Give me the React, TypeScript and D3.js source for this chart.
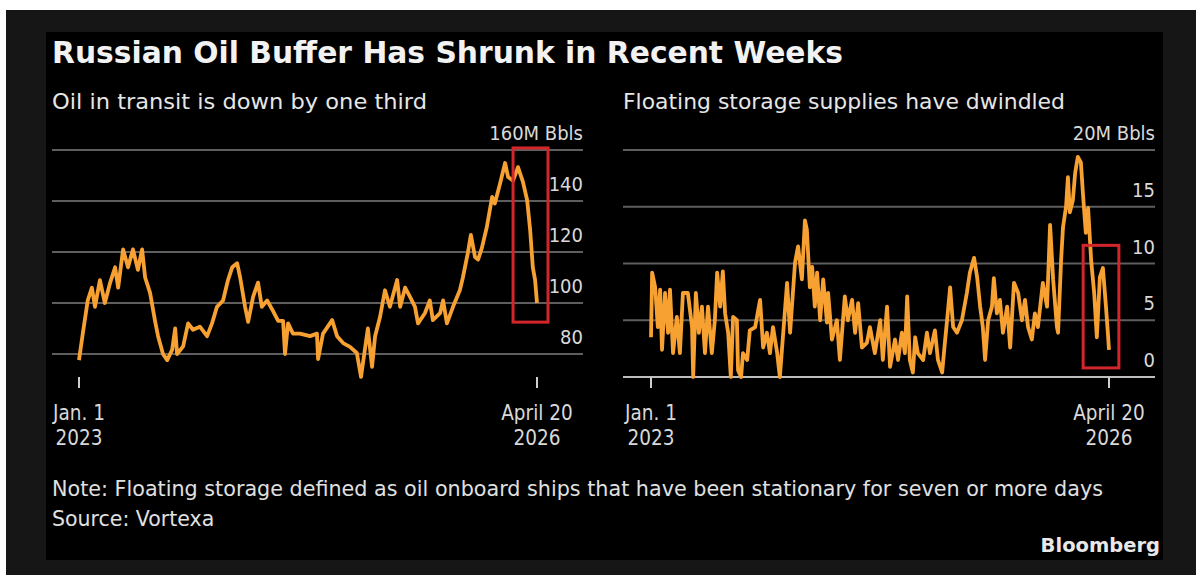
import React from "react";
import * as d3 from "d3";

// ---------- DATA ----------
const transitDates = [
  "2023-01-01","2023-01-11","2023-01-24","2023-02-04","2023-02-12","2023-02-25","2023-03-10","2023-03-24","2023-04-06","2023-04-14",
  "2023-04-27","2023-05-10","2023-05-23","2023-06-05","2023-06-16","2023-06-24","2023-07-07","2023-07-20","2023-07-28","2023-08-10",
  "2023-08-21","2023-09-03","2023-09-11","2023-09-16","2023-10-02","2023-10-15","2023-10-28","2023-11-15","2023-12-04","2023-12-17",
  "2023-12-30",
  "2024-01-15","2024-01-28","2024-02-08","2024-02-21","2024-02-29","2024-03-13","2024-03-21","2024-04-03","2024-04-16",
  "2024-04-26","2024-05-10","2024-05-25","2024-06-08","2024-06-21","2024-06-26","2024-07-04","2024-07-17","2024-08-04","2024-08-31",
  "2024-09-18","2024-09-21","2024-10-04","2024-10-28","2024-11-10","2024-11-26","2024-12-14",
  "2025-01-01","2025-01-12","2025-01-22",
  "2025-01-30","2025-02-10","2025-02-18","2025-03-03","2025-03-16","2025-03-29","2025-04-17","2025-04-25","2025-05-08","2025-05-21",
  "2025-06-03","2025-06-11","2025-06-29","2025-07-12","2025-07-20","2025-08-08","2025-08-16","2025-08-26","2025-09-11","2025-09-29",
  "2025-10-07","2025-10-20","2025-10-28","2025-11-08","2025-11-16","2025-11-26","2025-12-09","2025-12-23","2025-12-30",
  "2026-01-13","2026-01-26","2026-02-03","2026-02-16","2026-03-01","2026-03-14","2026-03-25","2026-04-02","2026-04-09","2026-04-15",
  "2026-04-20",
];
const transitValues = [
  77.6, 88, 101, 106, 98.5, 109, 100, 108, 114, 106,
  121, 114, 121, 113, 121, 110, 104, 93, 87, 80,
  77.6, 81.6, 90, 80, 83, 92, 89.5, 90.7, 87, 92,
  98.5,
  101, 109, 114, 115.6, 110, 98.5, 92.6, 102.4, 108,
  98.5, 101, 97, 93, 93, 80, 92, 88, 88, 87,
  88, 78, 88, 93.3, 87, 84.3, 82.8,
  80.4, 71, 81.6,
  90, 75, 87, 94.5, 105, 98.5, 109, 98.5, 106, 102.4,
  98.5, 92, 96, 101, 93.3, 96, 101, 92, 98.5, 105,
  110, 119.6, 126.7, 118, 117, 121.6, 129.8, 141.6, 139,
  147, 154.9, 149.4, 148, 153.3, 147.5, 140.4, 128.6, 114, 109,
  100,
];

const floatDates = [
  "2023-01-01","2023-01-04","2023-01-12","2023-01-19","2023-01-25","2023-01-30","2023-02-07","2023-02-15","2023-02-20","2023-02-28",
  "2023-03-10","2023-03-18","2023-03-26","2023-04-08","2023-04-19","2023-04-22","2023-04-29","2023-05-07","2023-05-15","2023-05-23",
  "2023-05-31","2023-06-10","2023-06-18","2023-06-24","2023-07-02","2023-07-09","2023-07-15","2023-07-23","2023-07-30","2023-08-05",
  "2023-08-15","2023-08-18","2023-08-26","2023-08-31","2023-09-11","2023-09-18","2023-10-02","2023-10-15","2023-10-23","2023-11-02",
  "2023-11-10","2023-11-18","2023-11-29","2023-12-06","2023-12-14","2023-12-25",
  "2024-01-02","2024-01-15","2024-01-23","2024-02-02","2024-02-10","2024-02-15","2024-02-23","2024-02-29","2024-03-07","2024-03-13",
  "2024-03-21","2024-03-29","2024-04-08","2024-04-11","2024-04-21","2024-05-04","2024-05-12","2024-05-25","2024-06-02","2024-06-13",
  "2024-06-21","2024-06-29","2024-07-09","2024-07-22","2024-07-30","2024-08-12","2024-08-26","2024-09-02","2024-09-13","2024-09-21",
  "2024-10-04","2024-10-12","2024-10-22","2024-10-30","2024-11-05","2024-11-12","2024-11-20","2024-11-26","2024-12-03","2024-12-17",
  "2024-12-27",
  "2025-01-04","2025-01-17","2025-01-25","2025-02-05","2025-02-13","2025-02-18","2025-02-26","2025-03-06","2025-03-16","2025-03-29",
  "2025-04-11","2025-04-19","2025-04-30","2025-05-08","2025-05-16","2025-05-23","2025-05-29","2025-06-06","2025-06-16","2025-06-21",
  "2025-06-29","2025-07-07","2025-07-15","2025-07-26","2025-08-03","2025-08-13","2025-08-24","2025-09-03","2025-09-11","2025-09-19",
  "2025-09-29","2025-10-07","2025-10-15","2025-10-28","2025-11-08","2025-11-16","2025-11-24","2025-12-04","2025-12-07","2025-12-15",
  "2025-12-20","2025-12-28",
  "2026-01-02","2026-01-07","2026-01-15","2026-01-21","2026-01-28","2026-02-05","2026-02-11","2026-02-18","2026-02-24","2026-03-04",
  "2026-03-12","2026-03-19","2026-03-27","2026-04-04","2026-04-12","2026-04-17","2026-04-20",
];
const floatValues = [
  3.5, 9.2, 7.9, 4.4, 7.7, 2.4, 7.4, 3.9, 7.7, 2.1,
  5.3, 2.1, 7.4, 7.4, 4.4, 0, 7.4, 3.9, 6.2, 2.1,
  6.2, 2.1, 5.0, 9.2, 6.2, 9.3, 5.6, 3.9, 0, 5.3,
  5.0, 0.6, 0, 2.1, 1.5, 4.1, 4.4, 6.8, 2.6, 3.9,
  2.1, 4.4, 2.1, 0, 3.5, 8.3,
  3.9, 10.1, 11.5, 8.6, 13.8, 13.0, 7.9, 9.7, 6.2, 9.2,
  5.0, 8.6, 4.8, 7.4, 3.3, 5.0, 1.5, 7.1, 5.0, 6.8,
  3.9, 6.5, 2.6, 3.0, 4.4, 2.1, 5.0, 1.5, 6.2, 0.9,
  3.3, 1.5, 3.9, 2.1, 7.1, 1.5, 0.4, 3.5, 2.1, 1.5,
  3.9,
  2.1, 4.1, 1.5, 0.4, 3.3, 5.0, 7.9, 4.4, 3.9, 5.0,
  7.4, 9.2, 10.5, 8.8, 6.2, 4.4, 1.5, 5.0, 6.2, 8.7,
  5.6, 6.8, 3.9, 6.2, 2.6, 8.3, 7.4, 5.0, 6.8, 4.4,
  3.3, 5.6, 4.4, 8.3, 6.2, 13.4, 8.6, 4.4, 3.9, 10.3,
  13.2, 15.0,
  17.6, 14.5, 15.6, 18.0, 19.4, 18.9, 15.9, 12.7, 14.9, 10.3,
  7.4, 3.5, 8.8, 9.6, 6.2, 3.9, 2.4,
];

const transitTicks = [80, 100, 120, 140, 160];
const floatTicks = [0, 5, 10, 15, 20];
const transitUnit = "160M Bbls";
const floatUnit = "20M Bbls";
const xTickDates = ["2023-01-01", "2026-04-20"];
const xTickLines = [["Jan. 1", "2023"], ["April 20", "2026"]];
// highlight boxes: [startDate, endDate, low value, high value]
const transitBox = ["2026-02-16", "2026-05-19", 92.5, 160.8];
const floatBox = ["2026-02-11", "2026-05-16", 0.8, 11.6];

const TITLE = "Russian Oil Buffer Has Shrunk in Recent Weeks";
const SUB_LEFT = "Oil in transit is down by one third";
const SUB_RIGHT = "Floating storage supplies have dwindled";
const NOTE = "Note: Floating storage defined as oil onboard ships that have been stationary for seven or more days";
const SOURCE = "Source: Vortexa";

// ---------- STYLE ----------
const FONT = "'DejaVu Sans Condensed', 'DejaVu Sans', sans-serif";
const FONT_WIDE = "'DejaVu Sans', sans-serif";
const LINE = "#f6a131";
const GRID = "#5e5e5e";
const LABEL = "#d9d9d9";
const RED = "#d3262b";

const parse = d3.utcParse("%Y-%m-%d");

type PanelProps = {
  dates: string[];
  values: number[];
  ticks: number[];
  unit: string;
  box: any[];
  gx0: number;
  gx1: number;
  tx0: number;
  tx1: number;
  yTop: number;
  yBottom: number;
  baseline: boolean;
};

function Panel(p: PanelProps) {
  const x = d3
    .scaleUtc()
    .domain([parse(xTickDates[0])!, parse(xTickDates[1])!])
    .range([p.tx0, p.tx1]);
  const tMin = p.ticks[0];
  const tMax = p.ticks[p.ticks.length - 1];
  const y = d3.scaleLinear().domain([tMin, tMax]).range([p.yBottom, p.yTop]);
  const data = p.dates.map((d, i) => ({ d: parse(d)!, v: p.values[i] }));
  const line = d3
    .line<{ d: Date; v: number }>()
    .x((e) => x(e.d))
    .y((e) => y(e.v));
  const axisY = 377;
  const bx0 = x(parse(p.box[0])!);
  const bx1 = x(parse(p.box[1])!);
  const by0 = y(p.box[3]);
  const by1 = y(p.box[2]);
  return (
    <g>
      {p.ticks.map((t) => (
        <line
          key={"g" + t}
          x1={p.gx0}
          x2={p.gx1}
          y1={y(t)}
          y2={y(t)}
          stroke={p.baseline && t === tMin ? "#bdbdbd" : GRID}
          strokeWidth={2}
        />
      ))}
      {p.ticks.map((t, i) => (
        <text
          key={"l" + t}
          x={p.gx1}
          y={y(t) - 10}
          textAnchor="end"
          fill={LABEL}
          fontSize={20}
          fontFamily={FONT}
        >
          {i === p.ticks.length - 1 ? p.unit : String(t)}
        </text>
      ))}
      <path
        d={line(data) || ""}
        fill="none"
        stroke={LINE}
        strokeWidth={3.8}
        strokeLinejoin="round"
      />
      <rect
        x={bx0}
        y={by0}
        width={bx1 - bx0}
        height={by1 - by0}
        fill="none"
        stroke={RED}
        strokeWidth={3}
      />
      {xTickDates.map((d, i) => {
        const px = x(parse(d)!);
        return (
          <g key={"x" + d}>
            <line x1={px} x2={px} y1={axisY} y2={axisY + 11} stroke="#cfcfcf" strokeWidth={2} />
            <text
              x={px}
              y={420}
              textAnchor="middle"
              fill={LABEL}
              fontSize={20.5}
              fontFamily={FONT}
            >
              {xTickLines[i][0]}
            </text>
            <text
              x={px}
              y={445}
              textAnchor="middle"
              fill={LABEL}
              fontSize={20.5}
              fontFamily={FONT}
            >
              {xTickLines[i][1]}
            </text>
          </g>
        );
      })}
    </g>
  );
}

export default function App() {
  return (
    <div style={{ position: "absolute", left: 0, top: 0 }}>
      <svg width={1196} height={575} style={{ display: "block" }}>
        <rect x={0} y={0} width={1196} height={575} fill="#ffffff" />
        <rect x={6} y={10} width={1190} height={565} fill="#161616" />
        <rect x={46} y={32} width={1117} height={528} fill="#000000" />
        <text
          x={52}
          y={63}
          fill="#f2f2f2"
          fontSize={29.5}
          fontWeight="bold"
          fontFamily={FONT_WIDE}
          textLength={791}
          lengthAdjust="spacingAndGlyphs"
        >
          {TITLE}
        </text>
        <text x={52} y={109} fill="#e6e6e6" fontSize={22} fontFamily={FONT_WIDE} textLength={375} lengthAdjust="spacingAndGlyphs">
          {SUB_LEFT}
        </text>
        <text x={623} y={109} fill="#e6e6e6" fontSize={22} fontFamily={FONT_WIDE} textLength={442} lengthAdjust="spacingAndGlyphs">
          {SUB_RIGHT}
        </text>
        <Panel
          dates={transitDates}
          values={transitValues}
          ticks={transitTicks}
          unit={transitUnit}
          box={transitBox}
          gx0={52}
          gx1={583}
          tx0={79}
          tx1={537}
          yTop={150}
          yBottom={354}
          baseline={false}
        />
        <Panel
          dates={floatDates}
          values={floatValues}
          ticks={floatTicks}
          unit={floatUnit}
          box={floatBox}
          gx0={623}
          gx1={1155}
          tx0={651}
          tx1={1109}
          yTop={150}
          yBottom={377}
          baseline={true}
        />
        <text x={52} y={496} fill="#e0e0e0" fontSize={20.5} fontFamily={FONT_WIDE} textLength={1051} lengthAdjust="spacingAndGlyphs">
          {NOTE}
        </text>
        <text x={52} y={526} fill="#e0e0e0" fontSize={20.5} fontFamily={FONT_WIDE}>
          {SOURCE}
        </text>
        <text
          x={1160}
          y={552}
          textAnchor="end"
          fill="#e8e8e8"
          fontSize={19.5}
          fontWeight="bold"
          fontFamily={FONT_WIDE}
        >
          Bloomberg
        </text>
      </svg>
    </div>
  );
}
